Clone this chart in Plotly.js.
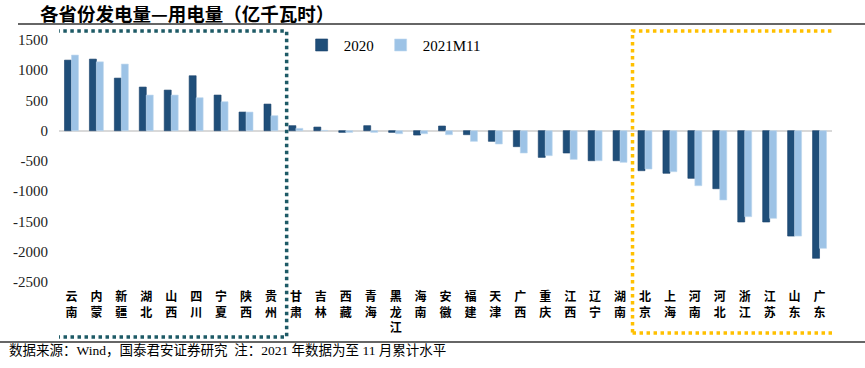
<!DOCTYPE html>
<html>
<head>
<meta charset="utf-8">
<script src="https://cdn.plot.ly/plotly-3.0.1.min.js"></script>
<style>html,body{margin:0;padding:0;background:#fff;}#chart{width:865px;height:368px;}</style>
</head>
<body>
<div id="chart"></div>
<script>
const provinces = ["云南","内蒙","新疆","湖北","山西","四川","宁夏","陕西","贵州","甘肃","吉林","西藏","青海","黑龙江","海南","安徽","福建","天津","广西","重庆","江西","辽宁","湖南","北京","上海","河南","河北","浙江","江苏","山东","广东"];
const series2020 = [1166,1183,869,721,671,908,589,308,440,83,60,-28,83,-28,-72,77,-66,-176,-264,-441,-369,-496,-496,-661,-704,-787,-959,-1509,-1509,-1741,-2109];
const series2021 = [1250,1138,1101,589,589,545,479,308,248,38,5,-28,-28,-50,-50,-66,-176,-220,-369,-413,-474,-496,-523,-633,-678,-909,-1145,-1421,-1448,-1741,-1944];
const yTicks = [-2500,-2000,-1500,-1000,-500,0,500,1000,1500];
const seriesNames = ["2020","2021M11"];
const titleText = "各省份发电量—用电量（亿千瓦时）";
const sourceText = "数据来源：Wind，国泰君安证券研究  注：2021 年数据为至 11 月累计水平";

const serif = "Liberation Serif, 'Noto Sans CJK SC', serif";
const cjk = "'Noto Sans CJK SC', sans-serif";

const traces = [
  {type:'bar', x: provinces, y: series2020, name: seriesNames[0],
   marker:{color:'#1f4e79', line:{color:'#17406a', width:0.6}}},
  {type:'bar', x: provinces, y: series2021, name: seriesNames[1],
   marker:{color:'#9dc3e6', line:{color:'#bdd7ee', width:0.6}}}
];

const L = 59, R = 832, T = 30, B = 285;
const px = x => (x - L) / (R - L);
const py = y => (B - y) / (B - T);

const layout = {
  width: 865, height: 368,
  margin: {l: L, r: 865 - R, t: T, b: 368 - B},
  paper_bgcolor: '#fff', plot_bgcolor: '#fff',
  barmode: 'group', bargap: 0.44, bargroupgap: 0,
  showlegend: true,
  legend: {orientation:'h', x: 0.3113, xanchor:'left', y: 1.005, yanchor:'top',
           font:{family: serif, size: 15, color:'#000'}, bgcolor:'rgba(0,0,0,0)',
           itemwidth: 34, tracegroupgap: 0},
  xaxis: {type:'category', range:[-0.5, 30.5], showgrid:false, zeroline:false, showline:false,
          ticks:'', tickvals: provinces, ticktext: provinces.map(s => s.split('').join('<br>')),
          tickangle: 0, tickfont:{family: cjk, size: 12, color:'#000', weight:'bold'}, ticklabelstandoff: 3},
  yaxis: {range:[-2550, 1664], tickvals: yTicks, ticktext: yTicks.map(String), showgrid:false,
          zeroline:true, zerolinecolor:'#d9d9d9', zerolinewidth:2, showline:false, ticks:'',
          tickfont:{family: serif, size: 15, color:'#222'}, ticklabelstandoff: 10},
  shapes: [
    {type:'rect', xref:'x', yref:'paper', x0:-0.6, x1:8.63, y0:py(337), y1:py(31),
     line:{color:'#1d5a66', width:3.5, dash:'3.5px,3.5px'}, fillcolor:'rgba(0,0,0,0)'},
    {type:'rect', xref:'x', yref:'paper', x0:22.5, x1:30.96, y0:py(333), y1:py(31),
     line:{color:'#ffc000', width:3.5, dash:'3.5px,3.5px'}, fillcolor:'rgba(0,0,0,0)'},
    {type:'line', xref:'paper', yref:'paper', x0:px(18), x1:px(865), y0:py(24), y1:py(24),
     line:{color:'#333', width:1.5}},
    {type:'line', xref:'paper', yref:'paper', x0:px(0), x1:px(865), y0:py(342), y1:py(342),
     line:{color:'#333', width:1.5}}
  ],
  annotations: [
    {text: titleText, xref:'paper', yref:'paper', x: px(38), y: py(13), xanchor:'left', yanchor:'middle',
     showarrow:false, font:{family: cjk, size: 18.5, color:'#000', weight: 'bold'}},
    {text: sourceText, xref:'paper', yref:'paper', x: px(7), y: py(350), xanchor:'left', yanchor:'middle',
     showarrow:false, font:{family: serif, size: 13.5, color:'#000'}}
  ]
};

Plotly.newPlot('chart', traces, layout, {displayModeBar:false, staticPlot:true});
</script>
</body>
</html>
